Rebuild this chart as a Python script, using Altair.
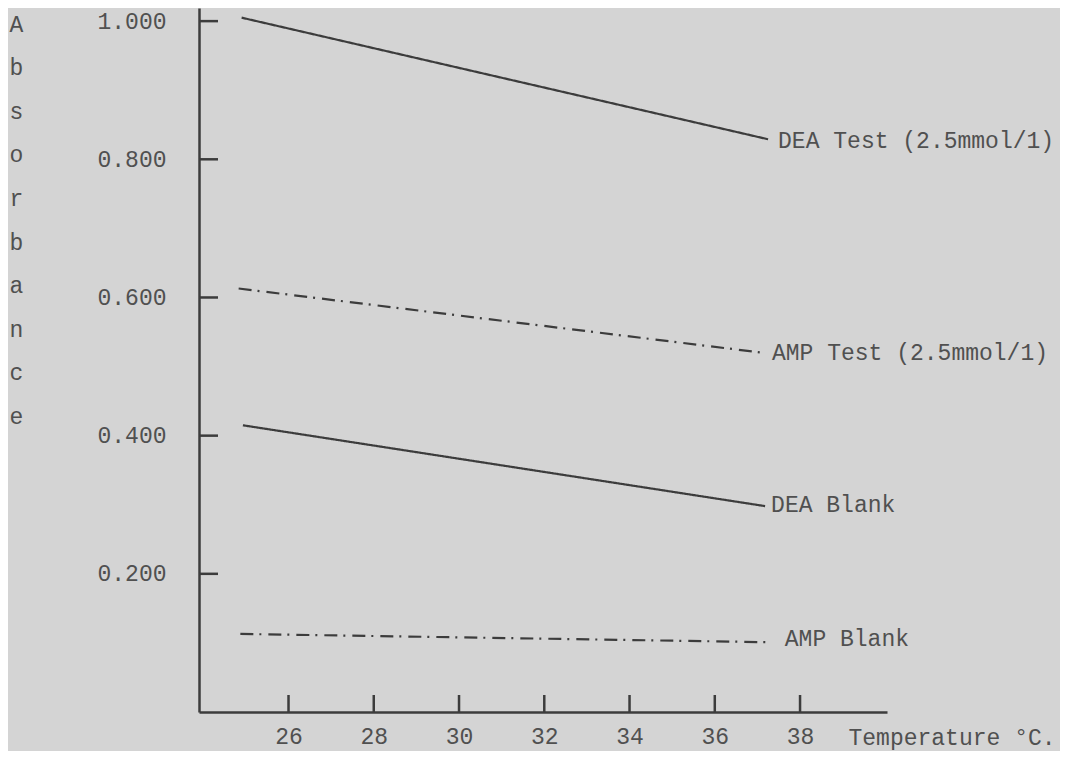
import altair as alt
import pandas as pd

# ---- data ----
series = ["DEA Test (2.5mmol/1)", "AMP Test (2.5mmol/1)", "DEA Blank", "AMP Blank"]
temp_start = [24.90, 24.83, 24.93, 24.87]
temp_end = [37.25, 37.13, 37.18, 37.29]
abs_start = [1.005, 0.613, 0.415, 0.113]
abs_end = [0.829, 0.520, 0.298, 0.101]
dashed = [False, True, False, True]

x_ticks = [26, 28, 30, 32, 34, 36, 38]
y_ticks = [0.2, 0.4, 0.6, 0.8, 1.0]
y_title = ["A", "b", "s", "o", "r", "b", "a", "n", "c", "e"]
x_title = "Temperature °C."

# ---- styling ----
FONT = "Liberation Mono"
FS = 23
INK = "#3c3c3c"
TXT = "#505050"
BG = "#d4d4d4"
W, H = 688, 704
X_MIN, X_MAX = 23.9, 40.04
Y_MIN, Y_MAX = 0, 1.019
TICK_PX = 19
label_dx = {series[0]: 10, series[1]: 9, series[2]: 6, series[3]: 15}
label_dy = {series[0]: 2, series[1]: 0, series[2]: -1, series[3]: -3}

rows = []
for s, t0, t1, a0, a1, d in zip(series, temp_start, temp_end, abs_start, abs_end, dashed):
    rows.append({"series": s, "temp": t0, "abs": a0, "dashed": d, "end": False})
    rows.append({"series": s, "temp": t1, "abs": a1, "dashed": d, "end": True})
df = pd.DataFrame(rows)

xscale = alt.Scale(domain=[X_MIN, X_MAX], nice=False, zero=False)
yscale = alt.Scale(domain=[Y_MIN, Y_MAX], nice=False, zero=False)

x_axis = alt.Axis(
    values=x_ticks, format="d", ticks=False, tickSize=0, grid=False,
    domainColor=INK, domainWidth=2.5, labelFont=FONT, labelFontSize=FS,
    labelColor=TXT, labelPadding=13, labelBaseline="top",
    title=x_title, titleFont=FONT, titleFontSize=FS, titleFontWeight="normal",
    titleColor=TXT, titleX=649, titleY=32, titleAlign="left",
    titleBaseline="alphabetic", titleAnchor="start",
)
y_axis = alt.Axis(
    values=y_ticks, format=".3f", ticks=False, tickSize=0, grid=False,
    domainColor=INK, domainWidth=2.5, labelFont=FONT, labelFontSize=FS,
    labelColor=TXT, labelPadding=33, labelAlign="right", labelBaseline="middle",
    title=y_title, titleFont=FONT, titleFontSize=FS, titleFontWeight="normal",
    titleColor=TXT, titleAngle=0, titleX=-183, titleY=23, titleAlign="center",
    titleBaseline="alphabetic", titleLineHeight=43.6, titleAnchor="start",
)

base = alt.Chart(df)

layers = []
for s, d in zip(series, dashed):
    layers.append(
        base.transform_filter(alt.datum.series == s)
        .mark_line(color=INK, strokeWidth=2.2,
                   strokeDash=[13, 6, 2, 7] if d else [1, 0])
        .encode(x=alt.X("temp:Q", scale=xscale, axis=x_axis),
                y=alt.Y("abs:Q", scale=yscale, axis=y_axis))
    )
for s in series:
    layers.append(
        base.transform_filter((alt.datum.series == s) & alt.datum.end)
        .mark_text(font=FONT, fontSize=FS, color=TXT, align="left",
                   baseline="middle", dx=label_dx[s], dy=label_dy[s])
        .encode(x="temp:Q", y="abs:Q", text="series:N")
    )

# inward-pointing tick marks (the axis itself only draws outward ticks)
x_per_px = (X_MAX - X_MIN) / W
y_per_px = (Y_MAX - Y_MIN) / H
ytick_df = pd.DataFrame({"v": y_ticks, "x0": X_MIN, "x1": X_MIN + TICK_PX * x_per_px})
xtick_df = pd.DataFrame({"v": x_ticks, "y0": Y_MIN, "y1": Y_MIN + 17 * y_per_px})
layers.append(
    alt.Chart(ytick_df).mark_rule(color=INK, strokeWidth=2.5)
    .encode(y="v:Q", x="x0:Q", x2="x1:Q")
)
layers.append(
    alt.Chart(xtick_df).mark_rule(color=INK, strokeWidth=2.5)
    .encode(x="v:Q", y="y0:Q", y2="y1:Q")
)

chart = (
    alt.layer(*layers)
    .properties(width=W, height=H, background=BG,
                autosize=alt.AutoSizeParams(type="none"),
                padding={"left": 191, "top": 0, "right": 173, "bottom": 39})
    .configure_view(stroke=None)
)

chart.save("out.html", embed_options={"renderer": "svg", "actions": False})
